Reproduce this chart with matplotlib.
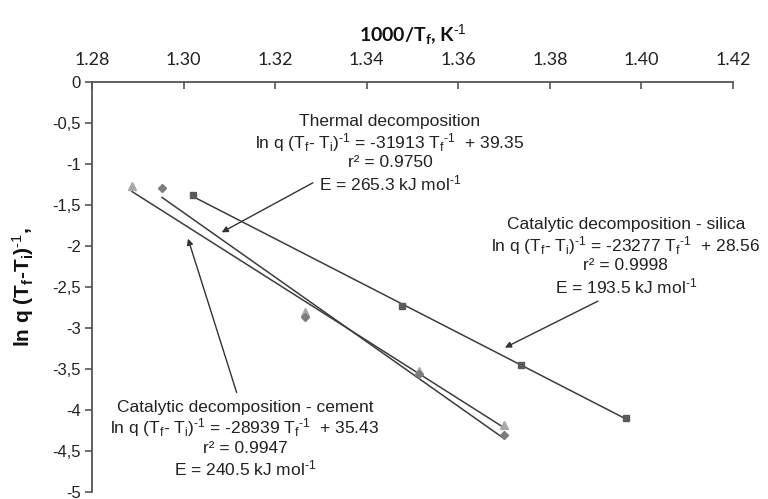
import matplotlib
matplotlib.use("Agg")
import matplotlib.pyplot as plt
from matplotlib.ticker import FuncFormatter, MultipleLocator
import numpy as np

plt.rcParams['font.family'] = ['Liberation Sans', 'DejaVu Sans']
plt.rcParams['mathtext.fontset'] = 'custom'
plt.rcParams['mathtext.rm'] = 'Liberation Sans'
plt.rcParams['mathtext.it'] = 'Liberation Sans:italic'
plt.rcParams['mathtext.bf'] = 'Liberation Sans:bold'

# data (x = 1000/Tf, y = ln q (Tf-Ti)^-1)
silica_x = [1.3021, 1.3476, 1.3738, 1.3967]
silica_y = [-1.383, -2.734, -3.451, -4.100]
thermal_x = [1.2953, 1.3265, 1.3515, 1.3700]
thermal_y = [-1.293, -2.860, -3.556, -4.303]
cement_x = [1.2887, 1.3265, 1.3515, 1.3700]
cement_y = [-1.274, -2.800, -3.530, -4.181]

x_ticks = [1.28, 1.30, 1.32, 1.34, 1.36, 1.38, 1.40, 1.42]

EQ = (r"ln q (T$_\mathregular{f}$- T$_\mathregular{i}$)$^{\text{-1}}$ = "
      r"%s T$_\mathregular{f}$$^{\text{-1}}$  + %s")
thermal_txt = ["Thermal decomposition",
               EQ % ("-31913", "39.35"),
               "r² = 0.9750",
               r"E = 265.3 kJ mol$^{\text{-1}}$"]
silica_txt = ["Catalytic decomposition - silica",
              EQ % ("-23277", "28.56"),
              "r² = 0.9998",
              r"E = 193.5 kJ mol$^{\text{-1}}$"]
cement_txt = ["Catalytic decomposition - cement",
              EQ % ("-28939", "35.43"),
              "r² = 0.9947",
              r"E = 240.5 kJ mol$^{\text{-1}}$"]

fig = plt.figure(figsize=(7.68, 4.99), dpi=100)
ax = fig.add_axes([92 / 768, 7 / 499, 641 / 768, 410 / 499])

series = [
    (cement_x, cement_y, '^', '#a8a8a8', 6),
    (thermal_x, thermal_y, 'D', '#7d7d7d', 4),
    (silica_x, silica_y, 's', '#5a5a5a', 5),
]
for xs, ys, mk, col, ms in series:
    k, b = np.polyfit(xs, ys, 1)
    xl = np.array([min(xs), max(xs)])
    ax.plot(xl, k * xl + b, color='#3c3c3c', lw=1.1, zorder=2)
    ax.plot(xs, ys, mk, color=col, ms=ms, mec=col, zorder=3)

ax.set_xlim(1.28, 1.42)
ax.set_ylim(-5, 0)
ax.set_xticks(x_ticks)
ax.xaxis.tick_top()
ax.xaxis.set_label_position('top')
ax.yaxis.set_major_locator(MultipleLocator(0.5))
ax.yaxis.set_major_formatter(FuncFormatter(
    lambda v, p: ('%g' % v).replace('.', ',')))

for s in ['bottom', 'right']:
    ax.spines[s].set_visible(False)
for s in ['top', 'left']:
    ax.spines[s].set_color('#555555')
    ax.spines[s].set_linewidth(1.3)

ax.tick_params(axis='x', direction='in', length=5, width=1.2, color='#555555',
               pad=10, labelsize=13, labelcolor='#222222')
ax.tick_params(axis='y', direction='out', length=5, width=1.2, color='#555555',
               pad=3, labelsize=12, labelcolor='#222222')
for lb in ax.get_xticklabels():
    lb.set_fontfamily(['Lato', 'DejaVu Sans'])

ax.set_xlabel(r'1000/T$_\mathregular{f}$, K$^{\text{-1}}$', fontsize=14,
              fontweight='bold', family=['Lato', 'DejaVu Sans'], labelpad=8,
              color='#111111')
ax.set_ylabel(r'ln q (T$_\mathbf{f}$-T$_\mathbf{i}$)$^{\mathbf{\text{-1}}}$,',
              fontsize=15, fontweight='bold', labelpad=12, color='#111111')


def px(xp, yp):
    return 1.28 + (xp - 92) / 4580.0, -(yp - 82) / 82.2


def block(lines, cx, top):
    for i, t in enumerate(lines):
        x, y = px(cx, top + 20.5 * i)
        ax.text(x, y, t, ha='center', va='center', fontsize=12.5,
                color='#222222', zorder=4)


block(thermal_txt, 390, 121.7)
block(silica_txt, 626, 225)
block(cement_txt, 245, 408)

arrows = [((313, 183), (221.7, 232.7)),
          ((598, 301.7), (505, 348.3)),
          ((236.7, 393.3), (188, 239))]
for a, b in arrows:
    ax.annotate('', xy=px(*b), xytext=px(*a),
                arrowprops=dict(arrowstyle='-|>', color='#333333', lw=1.0,
                                mutation_scale=9, shrinkA=0, shrinkB=0))

fig.savefig('out.png', dpi=100)
